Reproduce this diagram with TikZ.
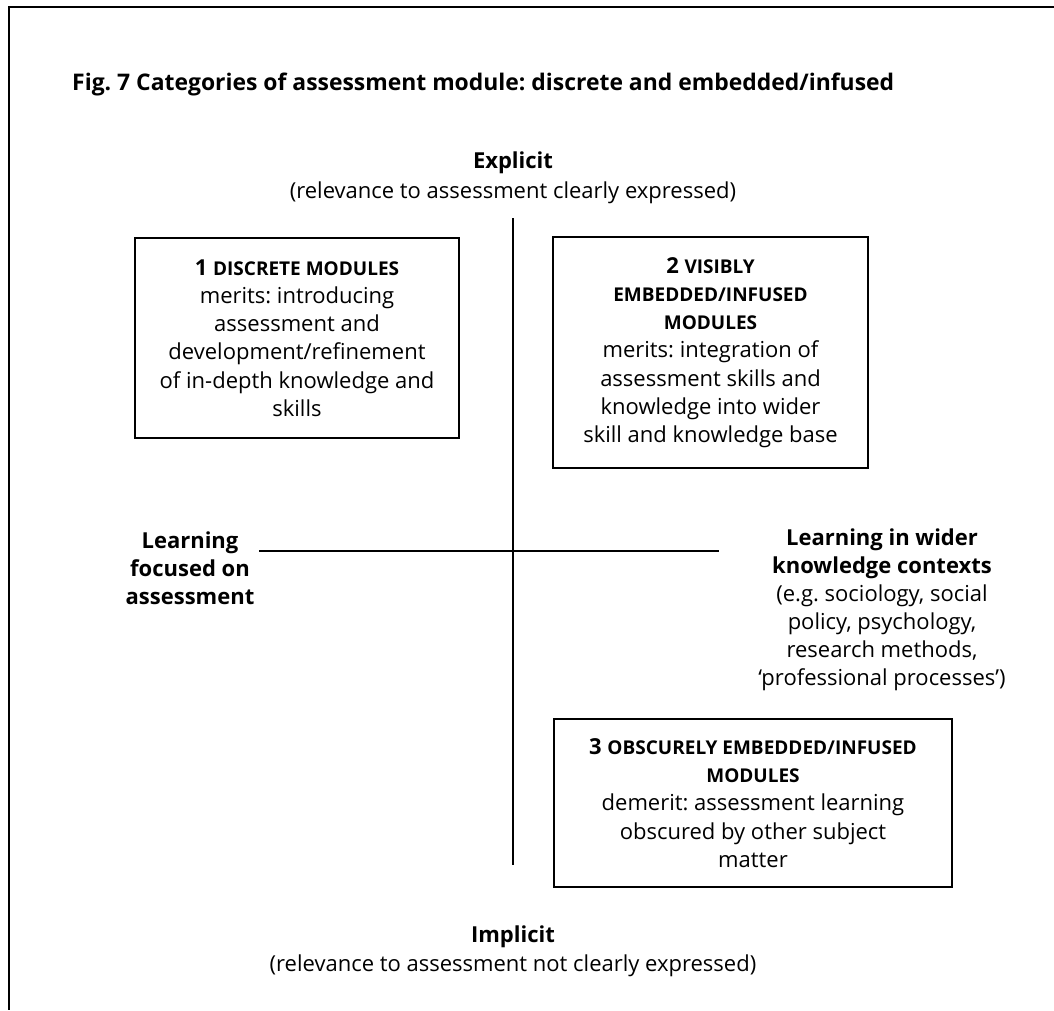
\documentclass[tikz,border=0pt]{standalone}
\usepackage{fontspec}
\setmainfont{Open Sans}
\frenchspacing
\newcommand{\smcp}[1]{{\fontsize{19}{28}\selectfont #1}}
\begin{document}
\begin{tikzpicture}[x=1pt,y=-1pt,
  txt/.style={font=\fontsize{22}{28}\selectfont, inner sep=0pt, align=center},
  bld/.style={txt, font=\fontsize{22}{28}\selectfont\bfseries},
  modbox/.style={draw, line width=1.6pt, inner sep=0pt, align=center,
    font=\fontsize{22}{28.2}\selectfont},
  axis/.style={line width=1.8pt}]
\useasboundingbox (0,0) rectangle (1054,1010);
% frame (top and left edges)
\draw[line width=2.6pt] (1054,7) -- (9,7) -- (9,1010);

% title
\node[bld, anchor=base west, font=\fontsize{22.9}{28}\selectfont\bfseries] (title) at (72,90)
  {Fig. 7 Categories of assessment module: discrete and embedded/infused};

% vertical pole
\node[bld, anchor=base] (explicit) at (513,168) {Explicit};
\node[txt, anchor=base] (explicitnote) at (513,198) {(relevance to assessment clearly expressed)};
\node[bld, anchor=base] (implicit) at (513,942) {Implicit};
\node[txt, anchor=base] (implicitnote) at (513,971) {(relevance to assessment not clearly expressed)};

% horizontal pole
\node[bld] (focused) at (190,568) {Learning\\focused on\\assessment};
\node[txt] (wider) at (882,610)
  {\textbf{Learning in wider}\\\textbf{knowledge contexts}\\(e.g. sociology, social\\policy, psychology,\\research methods,\\`professional processes')};

% axes
\coordinate (vtop) at (513,218);
\coordinate (vbot) at (513,865);
\coordinate (hleft) at (259,551);
\coordinate (hright) at (719,551);
\draw[axis] (vtop) -- (vbot);
\draw[axis] (hleft) -- (hright);

% module categories
\node[modbox, minimum width=324pt, minimum height=200pt] (m1) at (297,338)
  {\textbf{1 \smcp{DISCRETE MODULES}}\\merits: introducing\\assessment and\\development/refinement\\of in-depth knowledge and\\skills};
\node[modbox, minimum width=315pt, minimum height=231pt] (m2) at (710.5,352.5)
  {\textbf{2 \smcp{VISIBLY}}\\\textbf{\smcp{EMBEDDED/INFUSED}}\\\textbf{\smcp{MODULES}}\\merits: integration of\\assessment skills and\\knowledge into wider\\skill and knowledge base};
\node[modbox, minimum width=398pt, minimum height=168pt] (m3) at (753,803)
  {\textbf{3 \smcp{OBSCURELY EMBEDDED/INFUSED}}\\\textbf{\smcp{MODULES}}\\demerit: assessment learning\\obscured by other subject\\matter};
\end{tikzpicture}
\end{document}
